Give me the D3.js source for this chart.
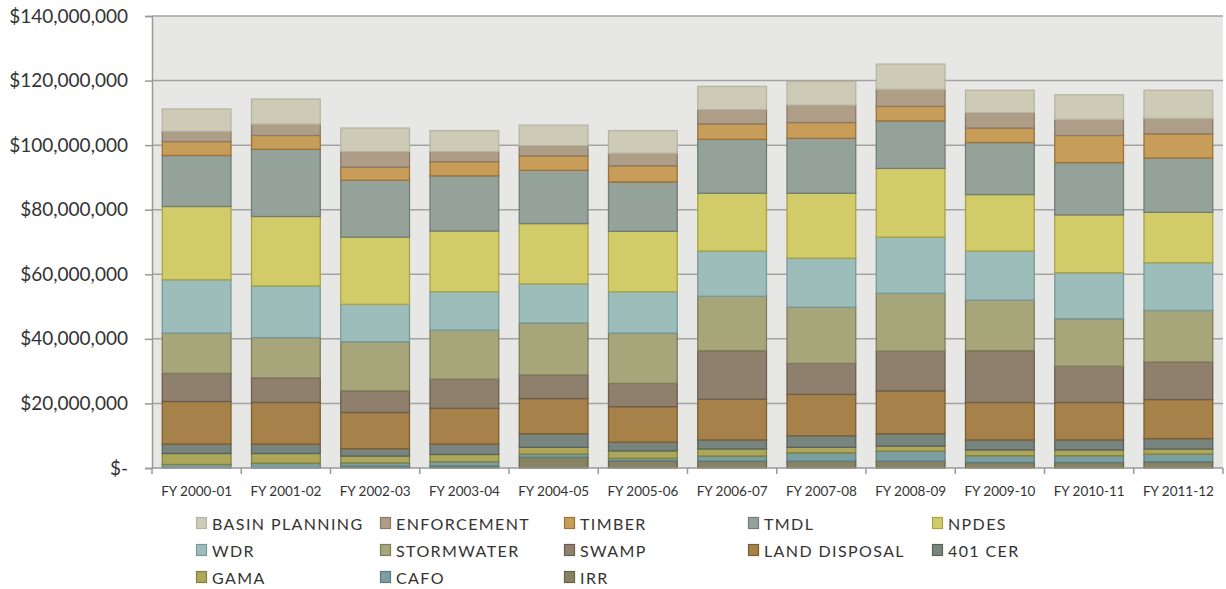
<!DOCTYPE html>
<html>
<head>
<meta charset="utf-8">
<script src="https://cdn.jsdelivr.net/npm/d3@7"></script>
<style>
  html, body { margin: 0; padding: 0; background: #ffffff; }
  svg { display: block; }
  text { font-family: Lato, "Open Sans", sans-serif; fill: #333333; }
</style>
</head>
<body>
<svg id="chart" width="1226" height="589"></svg>
<script>
// Fiscal years on the x axis
const categories = ["FY 2000-01", "FY 2001-02", "FY 2002-03", "FY 2003-04", "FY 2004-05", "FY 2005-06",
                    "FY 2006-07", "FY 2007-08", "FY 2008-09", "FY 2009-10", "FY 2010-11", "FY 2011-12"];

// Program budgets, millions of dollars per fiscal year
const irr          = [0.0, 0.0, 0.5, 0.6, 3.3, 2.2, 2.1, 2.1, 2.1, 1.7, 1.7, 1.9];
const cafo         = [1.1, 1.5, 1.1, 1.3, 1.0, 0.8, 1.6, 2.6, 3.1, 2.1, 2.1, 2.4];
const gama         = [3.4, 3.0, 2.1, 2.3, 2.1, 2.3, 2.2, 1.7, 1.6, 1.8, 1.8, 1.6];
const cer401       = [2.9, 2.9, 2.3, 3.2, 4.2, 2.7, 2.8, 3.6, 3.8, 3.1, 3.1, 3.2];
const landDisposal = [13.2, 12.9, 11.2, 11.1, 10.9, 11.0, 12.6, 12.8, 13.3, 11.6, 11.6, 12.1];
const swamp        = [8.7, 7.6, 6.7, 9.0, 7.3, 7.2, 15.0, 9.6, 12.3, 16.0, 11.2, 11.6];
const stormwater   = [12.5, 12.5, 15.2, 15.2, 16.1, 15.6, 16.9, 17.4, 17.9, 15.7, 14.7, 16.0];
const wdr          = [16.5, 16.0, 11.6, 11.9, 12.1, 12.8, 14.0, 15.2, 17.4, 15.2, 14.3, 14.8];
const npdes        = [22.7, 21.5, 20.8, 18.8, 18.7, 18.7, 17.9, 20.1, 21.3, 17.5, 17.9, 15.6];
const tmdl         = [15.8, 20.8, 17.6, 17.1, 16.5, 15.3, 16.7, 17.0, 14.7, 16.1, 16.2, 16.8];
const timber       = [4.3, 4.3, 4.1, 4.4, 4.5, 5.0, 4.8, 4.9, 4.5, 4.5, 8.4, 7.5];
const enforcement  = [3.2, 3.5, 4.8, 3.1, 3.1, 3.9, 4.4, 5.4, 5.3, 4.8, 5.0, 4.8];
const basinPlanning= [6.9, 7.8, 7.3, 6.5, 6.4, 7.0, 7.2, 7.3, 7.8, 6.9, 7.6, 8.7];

// Y axis ticks (millions)
const yTicks = [0, 20, 40, 60, 80, 100, 120, 140];

// Series, bottom of the stack first
const series = [
  { name: "IRR",            values: irr,           fill: "#878362", stroke: "#66633f" },
  { name: "CAFO",           values: cafo,          fill: "#7b9ea0", stroke: "#5a7b7d" },
  { name: "GAMA",           values: gama,          fill: "#aca75b", stroke: "#85803a" },
  { name: "401 CER",        values: cer401,        fill: "#78847e", stroke: "#59635e" },
  { name: "LAND DISPOSAL",  values: landDisposal,  fill: "#a6814a", stroke: "#7c5e30" },
  { name: "SWAMP",          values: swamp,         fill: "#8f806e", stroke: "#6b5e50" },
  { name: "STORMWATER",     values: stormwater,    fill: "#a7a57a", stroke: "#7f7d58" },
  { name: "WDR",            values: wdr,           fill: "#9dbdbb", stroke: "#779a9a" },
  { name: "NPDES",          values: npdes,         fill: "#d1cb69", stroke: "#aaa245" },
  { name: "TMDL",           values: tmdl,          fill: "#94a29a", stroke: "#6f7d76" },
  { name: "TIMBER",         values: timber,        fill: "#c89d5a", stroke: "#9c7238" },
  { name: "ENFORCEMENT",    values: enforcement,   fill: "#af9e87", stroke: "#8a7a68" },
  { name: "BASIN PLANNING", values: basinPlanning, fill: "#cdcab6", stroke: "#b6b5a4" }
];

const svg = d3.select("#chart");
const margin = { left: 152, right: 3, top: 16, bottom: 121 };
const W = 1226, H = 589;
const plotW = W - margin.left - margin.right;
const plotH = H - margin.top - margin.bottom;

const table = categories.map((c, i) => {
  const row = { category: c };
  series.forEach(s => { row[s.name] = s.values[i]; });
  return row;
});

const stack = d3.stack().keys(series.map(s => s.name));
const layers = stack(table);

const x = d3.scaleBand()
  .domain(categories)
  .range([margin.left, margin.left + plotW])
  .paddingInner(0.23)
  .paddingOuter(0.115);

const y = d3.scaleLinear()
  .domain([0, 140])
  .range([margin.top + plotH, margin.top]);

// Plot background
svg.append("rect")
  .attr("x", margin.left)
  .attr("y", y(140))
  .attr("width", plotW)
  .attr("height", y(0) - y(140))
  .attr("fill", "#e7e7e5");

// Horizontal gridlines
svg.append("g")
  .selectAll("line")
  .data(yTicks.filter(d => d > 0))
  .join("line")
  .attr("x1", margin.left)
  .attr("x2", margin.left + plotW)
  .attr("y1", d => y(d))
  .attr("y2", d => y(d))
  .attr("stroke", "#a3a3a3")
  .attr("stroke-width", 1.5);

// Stacked bars
const layerG = svg.append("g")
  .selectAll("g")
  .data(layers)
  .join("g")
  .attr("fill", (d, i) => series[i].fill)
  .attr("stroke", (d, i) => series[i].stroke);

layerG.selectAll("rect")
  .data(d => d.map(v => ({ v, cat: v.data.category })))
  .join("rect")
  .filter(d => d.v[1] - d.v[0] > 0)
  .attr("x", d => x(d.cat))
  .attr("width", x.bandwidth())
  .attr("y", d => y(d.v[1]))
  .attr("height", d => y(d.v[0]) - y(d.v[1]))
  .attr("stroke-width", 1.3);

// Y axis
const yAxis = d3.axisLeft(y)
  .tickValues(yTicks)
  .tickSize(7)
  .tickPadding(17)
  .tickFormat(d => d === 0 ? "$-" : d3.format("$,")(d * 1e6));

const yg = svg.append("g")
  .attr("transform", `translate(${margin.left},0)`)
  .call(yAxis);
yg.select(".domain").attr("stroke", "#999999").attr("stroke-width", 1.5);
yg.selectAll(".tick line").attr("stroke", "#999999").attr("stroke-width", 1.5);
yg.selectAll(".tick text")
  .style("font-family", "Lato, 'Open Sans', sans-serif")
  .style("font-size", "19px")
  .attr("fill", "#333333");

// X axis with boundary ticks between categories
const xg = svg.append("g")
  .attr("transform", `translate(0,${y(0)})`);
xg.append("line")
  .attr("x1", margin.left).attr("x2", margin.left + plotW)
  .attr("y1", 0).attr("y2", 0)
  .attr("stroke", "#999999").attr("stroke-width", 1.5);
const bounds = categories.map(c => x(c) - x.step() * x.paddingInner() / 2);
bounds.push(margin.left + plotW);
bounds[0] = margin.left;
xg.selectAll("line.tk")
  .data(bounds)
  .join("line")
  .attr("class", "tk")
  .attr("x1", d => d).attr("x2", d => d)
  .attr("y1", 0).attr("y2", 6)
  .attr("stroke", "#999999").attr("stroke-width", 1.5);
xg.selectAll("text")
  .data(categories)
  .join("text")
  .attr("x", d => x(d) + x.bandwidth() / 2)
  .attr("y", 28)
  .attr("text-anchor", "middle")
  .style("font-size", "13.5px")
  .text(d => d);

// Legend: five columns, reading order from the top of the stack down
const legendItems = series.slice().reverse();
const legend = svg.append("g");
const colX = d3.range(5).map(i => 196 + i * 184);
const rowY = [524, 551, 578];
const li = legend.selectAll("g")
  .data(legendItems)
  .join("g")
  .attr("transform", (d, i) => `translate(${colX[i % 5]},${rowY[Math.floor(i / 5)]})`);
li.append("rect")
  .attr("x", 0.5).attr("y", -6.5)
  .attr("width", 10).attr("height", 11)
  .attr("fill", d => d.fill)
  .attr("stroke", d => d.stroke)
  .attr("stroke-width", 1.2);
li.append("text")
  .attr("x", 16)
  .attr("y", 0)
  .attr("dy", "0.36em")
  .style("font-size", "16px")
  .style("letter-spacing", "1.4px")
  .text(d => d.name);
</script>
</body>
</html>
